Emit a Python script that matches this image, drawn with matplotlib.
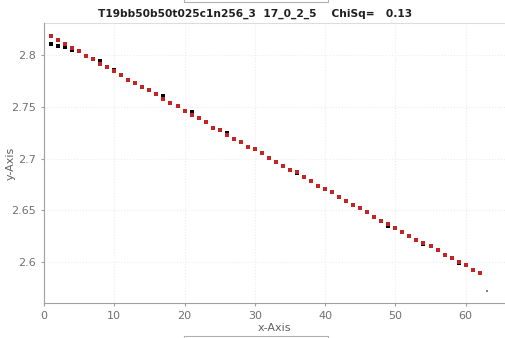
import numpy as np
import matplotlib
matplotlib.use('Agg')
import matplotlib.pyplot as plt
from matplotlib.patches import Rectangle

# x positions of the points
x_vals = list(range(1, 63))

# fitted curve (red)
fit_vals = [2.8187, 2.8148, 2.8106, 2.8070, 2.8036, 2.7987, 2.7958, 2.7916, 2.7886, 2.7845,
            2.7810, 2.7761, 2.7726, 2.7694, 2.7659, 2.7620, 2.7575, 2.7539, 2.7507, 2.7462,
            2.7423, 2.7391, 2.7349, 2.7300, 2.7275, 2.7227, 2.7185, 2.7157, 2.7114, 2.7089,
            2.7050, 2.7008, 2.6966, 2.6928, 2.6892, 2.6866, 2.6822, 2.6780, 2.6738, 2.6709,
            2.6674, 2.6632, 2.6592, 2.6551, 2.6519, 2.6480, 2.6438, 2.6401, 2.6364, 2.6326,
            2.6290, 2.6255, 2.6215, 2.6187, 2.6152, 2.6112, 2.6071, 2.6035, 2.5996, 2.5968,
            2.5923, 2.5890]

# measured data (black)
data_vals = [2.8103, 2.8090, 2.8074, 2.8051, 2.8036, 2.7987, 2.7958, 2.7938, 2.7886, 2.7857,
             2.7810, 2.7761, 2.7726, 2.7694, 2.7659, 2.7620, 2.7604, 2.7539, 2.7507, 2.7462,
             2.7452, 2.7391, 2.7349, 2.7298, 2.7275, 2.7250, 2.7185, 2.7157, 2.7114, 2.7089,
             2.7050, 2.7008, 2.6963, 2.6928, 2.6892, 2.6864, 2.6822, 2.6780, 2.6735, 2.6709,
             2.6674, 2.6632, 2.6592, 2.6551, 2.6519, 2.6480, 2.6438, 2.6399, 2.6351, 2.6326,
             2.6290, 2.6255, 2.6210, 2.6174, 2.6152, 2.6112, 2.6071, 2.6035, 2.5993, 2.5968,
             2.5923, 2.5890]

# stray last point
extra_x = [63]
extra_y = [2.572]

x_ticks = [0, 10, 20, 30, 40, 50, 60]
y_ticks = [2.6, 2.65, 2.7, 2.75, 2.8]
y_tick_labels = ['2.6', '2.65', '2.7', '2.75', '2.8']

title = 'T19bb50b50t025c1n256_3  17_0_2_5    ChiSq=   0.13'

fig = plt.figure(figsize=(5.05, 3.38), dpi=100)
ax = fig.add_axes([44 / 505, 35 / 338, 461 / 505, 280 / 338])

ax.scatter(x_vals, data_vals, marker='s', s=8, color='black', linewidths=0, zorder=3)
ax.scatter(x_vals, fit_vals, marker='s', s=6, color='#c42424', linewidths=0, zorder=4)
ax.scatter(extra_x, extra_y, marker='s', s=1.5, color='#808080', linewidths=0, zorder=3)

ax.set_xlim(0, 65.6)
ax.set_ylim(2.5604, 2.831)
ax.set_xticks(x_ticks)
ax.set_yticks(y_ticks)
ax.set_yticklabels(y_tick_labels)

ax.grid(True, color='#ececec', linestyle=':', linewidth=0.8)
ax.set_axisbelow(True)
for side in ['top', 'right']:
    ax.spines[side].set_visible(False)
ax.axhline(2.831, color='#dcdcdc', linewidth=0.8)
for side in ['left', 'bottom']:
    ax.spines[side].set_color('#a0a0a0')
ax.tick_params(colors='#a0a0a0', labelcolor='#707070', labelsize=8, length=2)

ax.set_xlabel('x-Axis', fontsize=8, color='#606060', labelpad=2)
fig.text(11 / 505, 1 - 163 / 338, 'y-Axis', rotation=90, ha='center', va='center',
         fontsize=8, color='#606060')
fig.text(255 / 505, 1 - 14 / 338, title, ha='center', va='center',
         fontsize=7.7, fontweight='bold', color='#202020')

# box edges cut by the image border
fig.patches.append(Rectangle((184 / 505, 1 - 2 / 338), 144 / 505, 10 / 338,
                             transform=fig.transFigure, fill=False,
                             edgecolor='#b0b0b0', linewidth=0.8))
fig.patches.append(Rectangle((184 / 505, -8 / 338), 144 / 505, 10 / 338,
                             transform=fig.transFigure, fill=False,
                             edgecolor='#b0b0b0', linewidth=0.8))

fig.savefig('out.png', dpi=100)
plt.close(fig)
